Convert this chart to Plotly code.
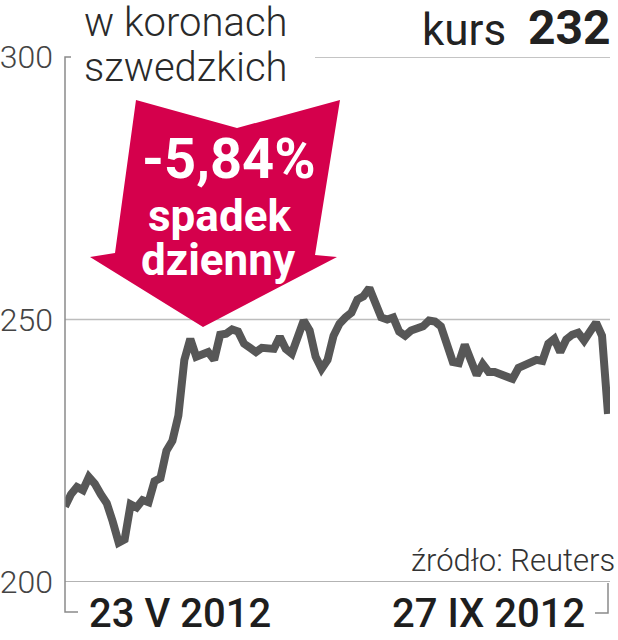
import plotly.graph_objects as go
import pandas as pd

# ---- data ----
dates = [d.strftime("%Y-%m-%d") for d in pd.bdate_range("2012-05-23", "2012-09-27")]
prices = [
    214.4, 216.7, 218.1, 217.5, 220.0, 218.7, 216.7, 215.0, 211.5, 207.5,
    208.1, 214.8, 214.2, 215.6, 215.2, 219.2, 219.8, 225.0, 226.9, 231.7,
    242.3, 246.3, 242.9, 243.3, 243.8, 242.3, 247.1, 247.3, 248.1, 247.7,
    245.4, 244.6, 243.8, 244.6, 244.6, 244.4, 246.7, 244.4, 243.5, 246.5,
    249.8, 247.9, 242.9, 240.6, 242.3, 246.9, 249.2, 250.4, 251.3, 253.8,
    254.4, 256.0, 253.3, 250.4, 250.0, 250.4, 247.7, 246.9, 247.9, 248.5,
    248.7, 249.8, 249.6, 248.7, 245.0, 241.9, 241.7, 245.2, 242.3, 239.4,
    241.5, 240.0, 240.0, 239.6, 239.0, 238.7, 240.8, 241.3, 241.9, 242.3,
    242.1, 245.4, 246.3, 243.8, 246.2, 247.1, 247.5, 246.0, 247.7, 249.4,
    246.9, 232.0,
]
y_ticks = [200, 250, 300]
y_tick_labels = ["200", "250", "300"]
x_labels = ["23 V 2012", "27 IX 2012"]
unit_lines = ["w koronach", "szwedzkich"]
last_label = "kurs"
last_value = "232"
badge_lines = ["-5,84%", "spadek", "dzienny"]
source = "źródło: Reuters"

W, H = 618, 640
L, R, T, B = 65, 610, 57, 582


def px(x):
    return (x - L) / (R - L)


def py(y):
    return (B - y) / (B - T)


LINE = "#575757"
RED = "#d5004c"
FONT = "Roboto"

fig = go.Figure()
fig.add_trace(go.Scatter(
    x=dates, y=prices, mode="lines",
    line=dict(color=LINE, width=8, shape="linear"),
    hoverinfo="x+y", showlegend=False,
))

shapes = []
# grid line 250
shapes.append(dict(type="line", xref="paper", yref="y", x0=0, x1=1, y0=250, y1=250,
                   line=dict(color="#bdbdbd", width=1.5), layer="below"))
# top line at 300 (right part)
shapes.append(dict(type="line", xref="paper", yref="y", x0=px(315), x1=1, y0=300, y1=300,
                   line=dict(color="#b0b0b0", width=1.5), layer="below"))
# bottom axis line at 200
shapes.append(dict(type="line", xref="paper", yref="y", x0=0, x1=1, y0=200, y1=200,
                   line=dict(color="#9a9a9a", width=1.5), layer="below"))
# left bracket
shapes.append(dict(type="path", xref="paper", yref="paper",
                   path=f"M {px(71)} {py(57)} L {px(65)} {py(57)} L {px(65)} {py(612)} L {px(78)} {py(612)}",
                   line=dict(color="#8a8a8a", width=1.5)))
# right bracket
shapes.append(dict(type="path", xref="paper", yref="paper",
                   path=f"M {px(608)} {py(583)} L {px(608)} {py(613)} L {px(595)} {py(613)}",
                   line=dict(color="#8a8a8a", width=1.5)))
# red arrow
arrow_pts = [(136, 100), (237, 128), (340, 100), (315, 255), (337, 257), (203, 327), (90, 257), (115, 253)]
path = "M " + " L ".join(f"{px(a)} {py(b)}" for a, b in arrow_pts) + " Z"
shapes.append(dict(type="path", xref="paper", yref="paper", path=path,
                   fillcolor=RED, line=dict(width=0), layer="above"))

ann = []


def add_text(text, x, y, xanchor, size, color, weight=400):
    ann.append(dict(text=text, x=px(x), y=py(y), xref="paper", yref="paper",
                    xanchor=xanchor, yanchor="middle", showarrow=False, borderpad=0,
                    font=dict(family=FONT, size=size, color=color, weight=weight)))


add_text(unit_lines[0], 83, 23, "left", 40, "#2a2a2a", 300)
add_text(unit_lines[1], 83, 67, "left", 40, "#2a2a2a", 300)
add_text(last_label, 507, 30, "right", 44, "#222222", 400)
add_text(last_value, 612, 28, "right", 48, "#222222", 700)
add_text(badge_lines[0], 229, 159, "center", 56, "white", 700)
add_text(badge_lines[1], 219, 216, "center", 44, "white", 700)
add_text(badge_lines[2], 218, 260, "center", 44, "white", 700)
add_text(source, 616, 560, "right", 31, "#333333", 300)
add_text(x_labels[0], 88, 613, "left", 40, "#1e1e1e", 500)
add_text(x_labels[1], 586, 613, "right", 40, "#1e1e1e", 500)

fig.update_layout(
    width=W, height=H,
    margin=dict(l=L, r=W - R, t=T, b=H - B, pad=0, autoexpand=False),
    paper_bgcolor="white", plot_bgcolor="white",
    shapes=shapes, annotations=ann,
    xaxis=dict(type="category", range=[0, 91 * (R - L) / 543], showgrid=False,
               showline=False, zeroline=False, showticklabels=False, ticks="",
               automargin=False),
    yaxis=dict(range=[200, 300], tickvals=y_ticks, ticktext=y_tick_labels,
               showgrid=False, showline=False, zeroline=False, ticks="",
               ticklabelstandoff=11, automargin=False,
               tickfont=dict(family=FONT, size=32, color="#444444", weight=300)),
)

fig.write_html("out.html", config={"displayModeBar": False},
               post_script="document.body.style.margin='0';document.body.style.overflow='hidden';")
